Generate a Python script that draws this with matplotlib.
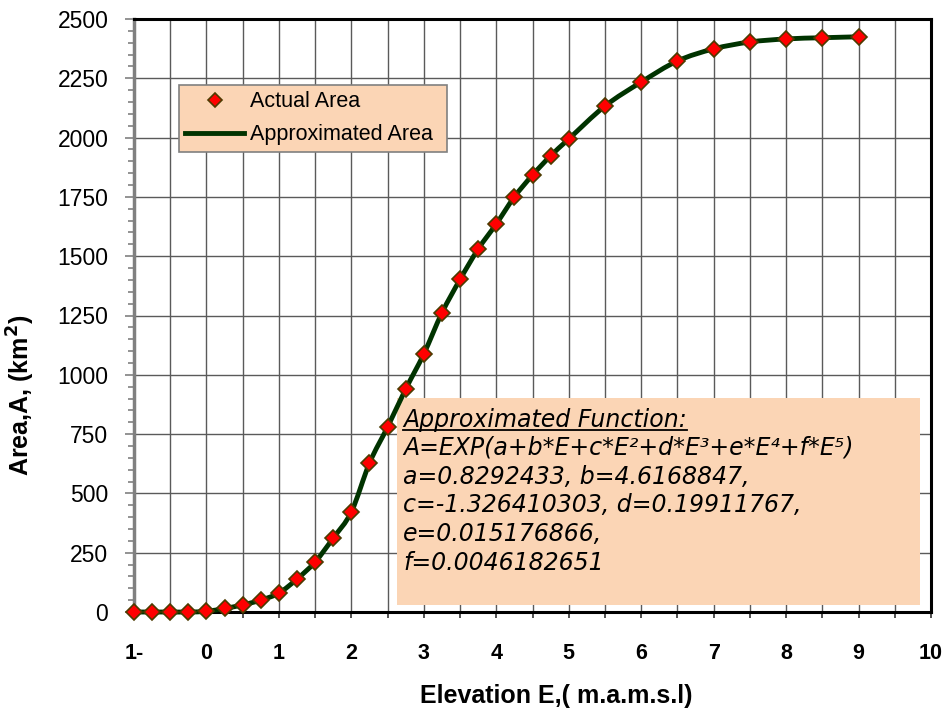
import matplotlib
matplotlib.use("Agg")
import matplotlib.pyplot as plt
from matplotlib.patches import Rectangle, PathPatch
from matplotlib.path import Path
from matplotlib.ticker import MultipleLocator
from matplotlib.lines import Line2D

plt.rcParams['font.family'] = ['Liberation Sans', 'DejaVu Sans']

# ---- data ----
elevation = [-1.0, -0.75, -0.5, -0.25, 0.0, 0.25, 0.5, 0.75, 1.0, 1.25, 1.5, 1.75,
             2.0, 2.25, 2.5, 2.75, 3.0, 3.25, 3.5, 3.75, 4.0, 4.25, 4.5, 4.75,
             5.0, 5.5, 6.0, 6.5, 7.0, 7.5, 8.0, 8.5, 9.0]
area_actual = [0, 0, 0, 0, 3, 15, 30, 50, 80, 139, 211, 312,
               422, 628, 780, 940, 1088, 1261, 1402, 1530, 1636, 1750, 1842, 1923,
               1994, 2133, 2234, 2323, 2374, 2403, 2416, 2421, 2425]
area_approx = area_actual

x_ticks = [-1, 0, 1, 2, 3, 4, 5, 6, 7, 8, 9, 10]
x_tick_labels = ['1-', '0', '1', '2', '3', '4', '5', '6', '7', '8', '9', '10']
y_ticks = [0, 250, 500, 750, 1000, 1250, 1500, 1750, 2000, 2250, 2500]

func_title = "Approximated Function:"
func_lines = [
    "A=EXP(a+b*E+c*E\u00b2+d*E\u00b3+e*E\u2074+f*E\u2075)",
    "a=0.8292433, b=4.6168847,",
    "c=-1.326410303, d=0.19911767,",
    "e=0.015176866,",
    "f=0.0046182651",
]

# ---- figure ----
W, H = 950, 708
L, R, T, B = 134, 931, 19, 612
fig = plt.figure(figsize=(W/100, H/100), dpi=100)
ax = fig.add_axes([L/W, 1-B/H, (R-L)/W, (B-T)/H])

def axx(px):
    return (px - L) / (R - L)

def axy(py):
    return (B - py) / (B - T)

ax.set_xlim(-1, 10)
ax.set_ylim(0, 2500)

ax.xaxis.set_minor_locator(MultipleLocator(0.5))
ax.yaxis.set_minor_locator(MultipleLocator(50))
ax.set_xticks(x_ticks)
ax.set_xticklabels(x_tick_labels, fontweight='bold', fontsize=15.5)
ax.set_yticks(y_ticks)
ax.set_yticklabels([str(v) for v in y_ticks], fontsize=16.5)

ax.grid(True, which='major', axis='y', color='#5a5a5a', linewidth=1.0)
ax.grid(True, which='both', axis='x', color='#5a5a5a', linewidth=1.0)
ax.set_axisbelow(True)

ax.tick_params(axis='y', which='major', direction='out', length=6.5, width=1.2, color='#808080', pad=12)
ax.tick_params(axis='y', which='minor', direction='out', length=4.5, width=1.2, color='#808080')
ax.tick_params(axis='x', which='major', direction='out', length=4.5, width=1.2, color='#333333', pad=18)
ax.tick_params(axis='x', which='minor', direction='out', length=4.5, width=1.2, color='#333333')

for side in ['top', 'right', 'bottom']:
    ax.spines[side].set_color('black')
    ax.spines[side].set_linewidth(2.2)
ax.spines['left'].set_color('#808080')
ax.spines['left'].set_linewidth(2.5)

# annotation box
ax.add_patch(Rectangle((axx(397), axy(605)), axx(920) - axx(397), axy(398) - axy(605),
                       transform=ax.transAxes, facecolor='#FBD5B5', edgecolor='none', zorder=2))

# smoothed line through the points (cubic Bezier, Catmull-Rom style)
n = len(elevation)
verts = [(elevation[0], area_approx[0])]
codes = [Path.MOVETO]
for i in range(n - 1):
    x0, y0 = elevation[i], area_approx[i]
    x1, y1 = elevation[i + 1], area_approx[i + 1]
    xp, yp = (elevation[i - 1], area_approx[i - 1]) if i > 0 else (x0, y0)
    xn, yn = (elevation[i + 2], area_approx[i + 2]) if i + 2 < n else (x1, y1)
    c1 = (x0 + (x1 - xp) / 6.0, y0 + (y1 - yp) / 6.0)
    c2 = (x1 - (xn - x0) / 6.0, y1 - (yn - y0) / 6.0)
    verts += [c1, c2, (x1, y1)]
    codes += [Path.CURVE4, Path.CURVE4, Path.CURVE4]
ax.add_patch(PathPatch(Path(verts, codes), facecolor='none', edgecolor='#003300',
                       linewidth=3.5, zorder=3, clip_on=False, capstyle='round', joinstyle='round'))

ax.plot(elevation, area_actual, linestyle='none', marker='D', markersize=8,
        markerfacecolor='#FF0000', markeredgecolor='#4D3B00', markeredgewidth=1.2,
        zorder=4, clip_on=False)

# legend
h_marker = Line2D([], [], linestyle='none', marker='D', markersize=7,
                  markerfacecolor='#FF0000', markeredgecolor='#4D3B00', markeredgewidth=1.2)
h_line = Line2D([], [], color='#003300', linewidth=3.5)
leg = ax.legend([h_marker, h_line], ['Actual Area', 'Approximated Area'],
                loc='upper left',
                bbox_to_anchor=(axx(179), axy(152), axx(447) - axx(179), axy(85) - axy(152)),
                mode='expand',
                fontsize=15.5, frameon=True, fancybox=False, framealpha=1,
                facecolor='#FBD5B5', edgecolor='#808080', handlelength=2.7,
                handletextpad=0.3, borderpad=0.3, labelspacing=0.55, borderaxespad=0)
leg.get_frame().set_linewidth(1.2)
leg.set_zorder(5)

# function text
tx = axx(403)
ys = [420, 448, 477, 505, 534, 563]
t0 = ax.text(tx, axy(ys[0]), func_title, transform=ax.transAxes, fontsize=17,
             family='DejaVu Sans', style='italic', va='center', ha='left', zorder=6)
for yy, line in zip(ys[1:], func_lines):
    ax.text(tx, axy(yy), line, transform=ax.transAxes, fontsize=17,
            family='DejaVu Sans', style='italic', va='center', ha='left', zorder=6)

fig.canvas.draw()
bb = t0.get_window_extent()
inv = ax.transAxes.inverted()
(ux0, uy0), (ux1, _) = inv.transform([(bb.x0, bb.y0), (bb.x1, bb.y0)])
ax.add_line(Line2D([ux0, ux1], [uy0 + 0.004, uy0 + 0.004], transform=ax.transAxes,
                   color='black', linewidth=1.3, zorder=6))

ax.set_xlabel('Elevation E,( m.a.m.s.l)', fontsize=18, fontweight='bold')
ax.xaxis.set_label_coords(axx(556), axy(684))
ax.set_ylabel('Area,A, (km$^\\mathbf{2}$)', fontsize=18, fontweight='bold')
ax.yaxis.set_label_coords(axx(37), axy(395))

fig.savefig('out.png', dpi=100)
